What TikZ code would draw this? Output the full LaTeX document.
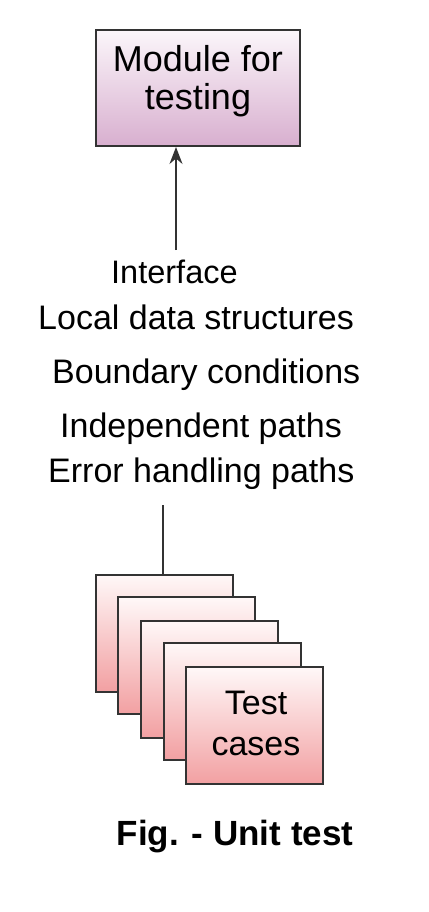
\documentclass[tikz,border=0pt]{standalone}
\usepackage{fontspec}
\setmainfont{Liberation Sans}
\usetikzlibrary{arrows.meta}
\definecolor{modtop}{HTML}{FBF6FA}
\definecolor{modbot}{HTML}{D8AFCF}
\definecolor{cardtop}{HTML}{FFF8F8}
\definecolor{cardbot}{HTML}{F2A0A2}
\definecolor{edge}{HTML}{333333}
\tikzset{
  modbox/.style={draw=edge, line width=2pt, top color=modtop, bottom color=modbot,
    minimum width=204pt, minimum height=116pt, inner sep=0pt},
  card/.style={draw=edge, line width=2pt, top color=cardtop, bottom color=cardbot,
    minimum width=137pt, minimum height=117pt, inner sep=0pt},
  txt/.style={inner sep=0pt, text=black},
  item/.style={txt, anchor=base west, font=\fontsize{34}{38}\selectfont},
  conn/.style={draw=edge, line width=1.5pt},
}
\begin{document}
\begin{tikzpicture}[x=1pt, y=-1pt]
\useasboundingbox (0,0) rectangle (428,912);
% top box
\node[modbox] (mod) at (198,88) {};
\node[txt, align=center, font=\fontsize{36}{38}\selectfont] (modtxt) at (198,81) {Module for\\testing};
% list of items
\node[item, font=\fontsize{32.5}{38}\selectfont] (i1) at (111,283) {Interface};
\node[item] (i2) at (38,329) {Local data structures};
\node[item] (i3) at (52,383) {Boundary conditions};
\node[item] (i4) at (60,437) {Independent paths};
\node[item] (i5) at (48,482) {Error handling paths};
% arrow to module
\coordinate (astart) at (176,250);
\draw[conn, -{Stealth[length=17pt, width=13pt]}] (astart) -- (astart |- mod.south);
% stacked cards
\node[card] (c1) at (164,633) {};
\node[card] (c2) at (186.5,655.5) {};
\node[card] (c3) at (209.5,679) {};
\node[card] (c4) at (232,701) {};
\node[card] (c5) at (254.5,725.5) {};
\node[txt, align=center, font=\fontsize{34}{41}\selectfont] (c5txt) at (256,723) {Test\\cases};
\coordinate (lstart) at (163,505);
\draw[conn] (lstart) -- (lstart |- c1.north);
% caption
\node[txt, font=\bfseries\fontsize{35}{40}\selectfont] (cap) at (235,837) {Fig. - Unit test};
\end{tikzpicture}
\end{document}
